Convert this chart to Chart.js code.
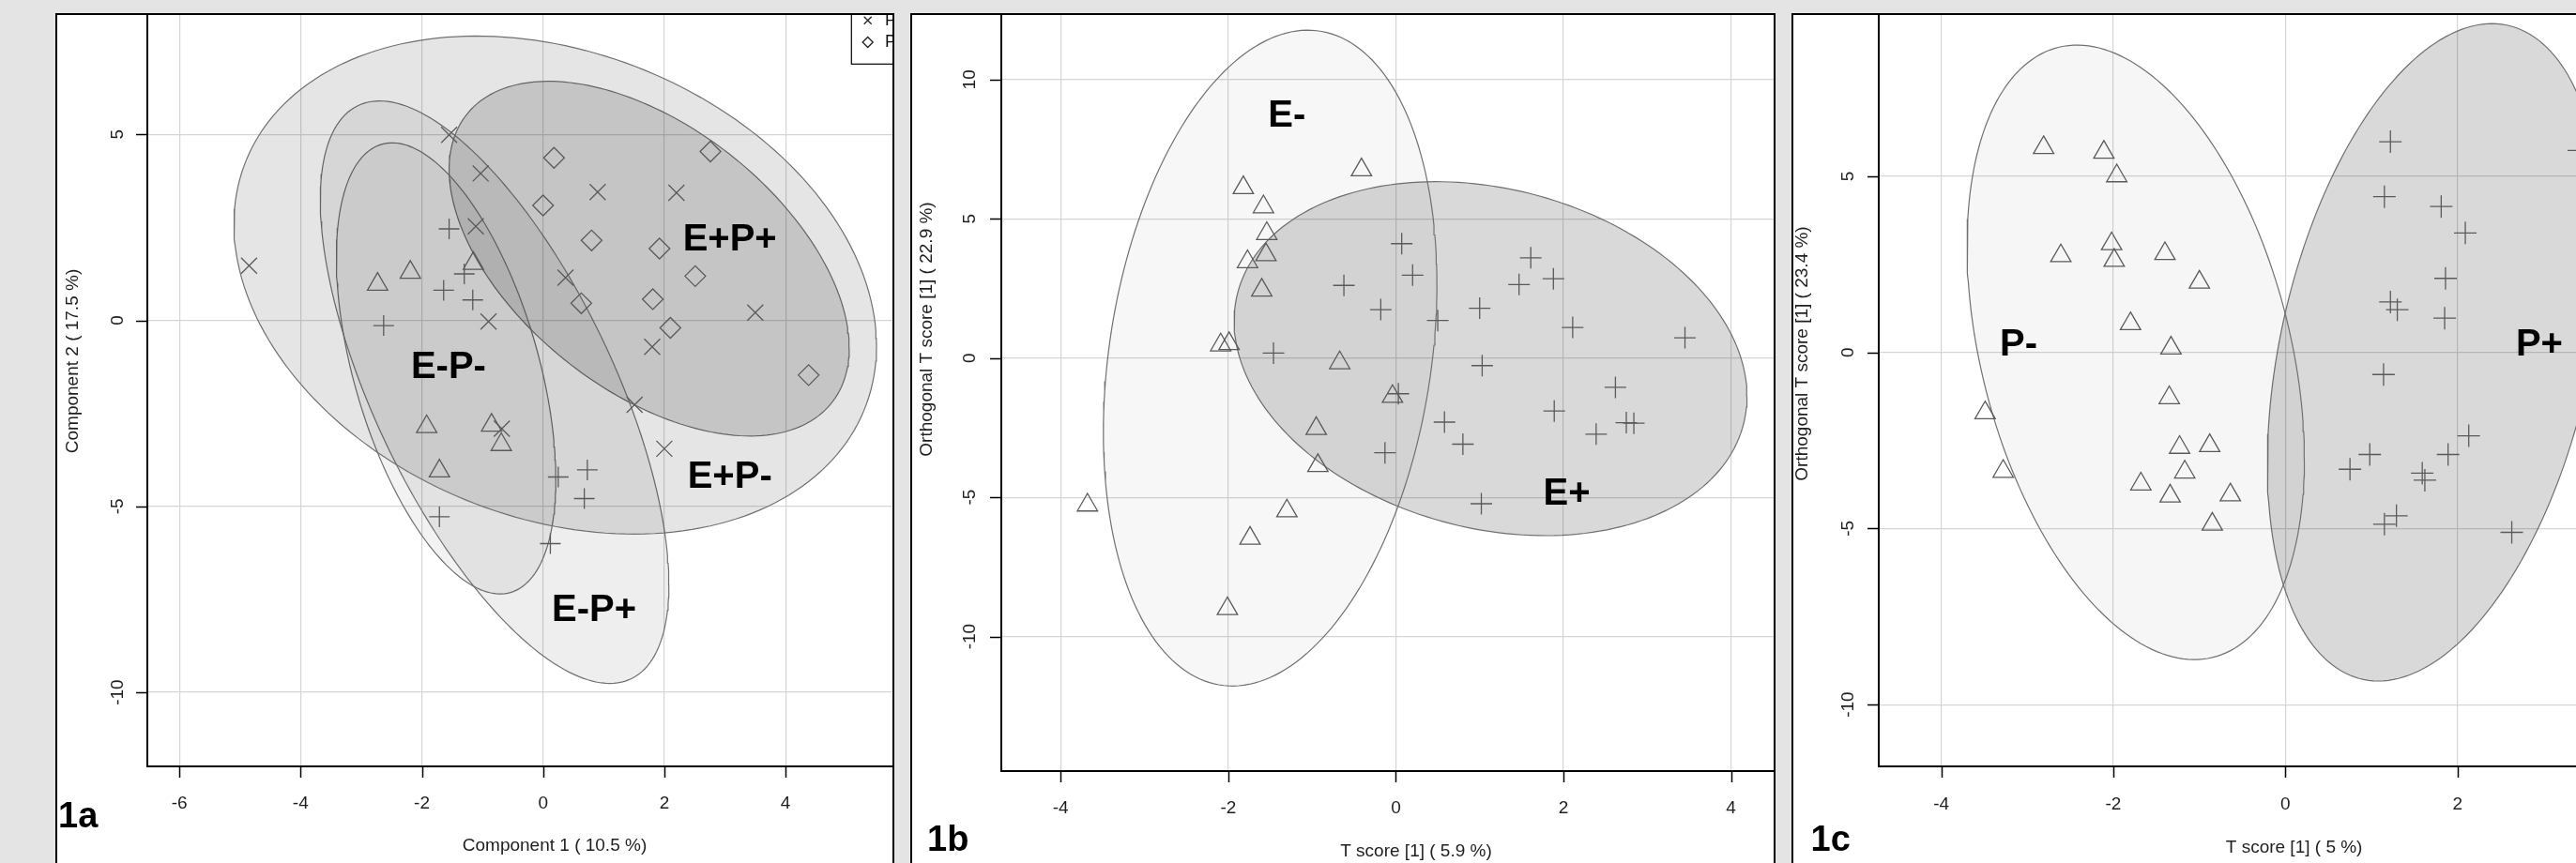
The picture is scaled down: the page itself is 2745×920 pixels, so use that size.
<!DOCTYPE html>
<html><head><meta charset="utf-8">
<script src="https://cdn.jsdelivr.net/npm/chart.js@4.4.1/dist/chart.umd.min.js"></script>
<style>
html,body{margin:0;padding:0;}
body{width:2745px;height:920px;overflow:hidden;background:#e4e4e4;position:relative;}
.panel{position:absolute;box-sizing:border-box;border:2px solid #000;background:#fff;overflow:hidden;}
.panel canvas{position:absolute;left:-2px;top:-2px;}
</style></head>
<body>
<div class="panel" style="left:59px;top:14px;width:894px;height:920px;"><canvas id="cA"></canvas></div>
<div class="panel" style="left:970px;top:14px;width:922px;height:920px;"><canvas id="cB"></canvas></div>
<div class="panel" style="left:1909px;top:14px;width:900px;height:920px;"><canvas id="cC"></canvas></div>
<script>
// ---------------- Panel 1a data ----------------
const A_xTicks = [-6, -4, -2, 0, 2, 4];
const A_yTicks = [-10, -5, 0, 5];
const A_EmPm = [[-2.73,0.97],[-2.19,1.29],[-1.15,1.53],[-1.92,-2.86],[-0.85,-2.82],[-0.69,-3.34],[-1.71,-4.05]];            // triangles
const A_EpPm = [[-4.85,1.47],[-1.55,4.99],[-1.03,3.95],[-1.11,2.53],[-0.90,-0.03],[-0.68,-2.91],[0.37,1.15],[0.90,3.45],[2.20,3.43],[1.80,-0.71],[1.51,-2.27],[2.00,-3.45],[3.50,0.21]]; // x marks
const A_EmPp = [[-1.55,2.46],[-1.30,1.25],[-1.64,0.81],[-1.16,0.55],[-2.63,-0.14],[0.25,-4.21],[0.73,-4.02],[0.68,-4.79],[-1.71,-5.28],[0.12,-6.00]]; // plus
const A_EpPp = [[0.18,4.37],[2.76,4.54],[0.00,3.09],[0.80,2.15],[1.92,1.93],[2.51,1.19],[0.63,0.46],[1.81,0.57],[2.10,-0.20],[4.38,-1.47]]; // diamonds
// ellipse parameters: [centre x, centre y, x half-extent, y shear, y half-axis]
const A_ellEpPm = [0.20, 0.95, 5.30, -1.64, 6.49];
const A_ellEpPp = [1.75, 1.66, 3.30, -2.40, 4.12];
const A_ellEmPp = [-0.80, -1.93, 2.875, -5.17, 5.88];
const A_ellEmPm = [-1.60, -1.29, 1.81, -2.98, 5.28];
const A_labels = [["E+P+",3.08,2.23],["E-P-",-1.56,-1.19],["E+P-",3.08,-4.15],["E-P+",0.84,-7.73]];
const A_legend = ["P-E+", "P+E+"];

// ---------------- Panel 1b data ----------------
const B_xTicks = [-4, -2, 0, 2, 4];
const B_yTicks = [-10, -5, 0, 5, 10];
const B_Em = [[-3.68,-5.28],[-1.82,6.12],[-0.41,6.76],[-1.58,5.43],[-1.54,4.47],[-1.55,3.71],[-1.77,3.46],[-1.60,2.44],[-2.09,0.47],[-1.99,0.52],[-0.67,-0.17],[-0.04,-1.38],[-0.95,-2.53],[-0.93,-3.86],[-1.30,-5.49],[-1.74,-6.47],[-2.01,-9.00]];
const B_Ep = [[0.07,4.11],[0.20,2.98],[-0.62,2.61],[-0.18,1.74],[0.50,1.35],[-1.46,0.18],[1.00,1.79],[1.61,3.60],[1.47,2.64],[1.88,2.85],[2.11,1.10],[3.45,0.73],[1.03,-0.27],[0.03,-1.28],[2.62,-1.05],[1.89,-1.90],[0.58,-2.30],[0.80,-3.09],[-0.13,-3.40],[2.39,-2.73],[2.75,-2.32],[2.84,-2.34],[1.02,-5.23]];
const B_ellEm = [-1.50, 0.00, 1.99, 2.66, 11.47];
const B_ellEp = [1.13, -0.02, 3.06, -1.35, 6.21];
const B_labels = [["E-",-1.30,8.79],["E+",2.04,-4.77]];

// ---------------- Panel 1c data ----------------
const C_xTicks = [-4, -2, 0, 2];
const C_yTicks = [-10, -5, 0, 5];
const C_Pm = [[-2.81,5.81],[-2.11,5.68],[-1.96,5.01],[-2.02,3.08],[-1.99,2.61],[-2.61,2.74],[-1.40,2.80],[-1.00,1.99],[-1.80,0.81],[-1.33,0.12],[-1.35,-1.29],[-3.49,-1.72],[-3.28,-3.38],[-1.23,-2.70],[-0.88,-2.65],[-1.17,-3.40],[-1.68,-3.74],[-1.34,-4.08],[-0.64,-4.05],[-0.85,-4.88]];
const C_Pp = [[1.22,5.98],[1.15,4.42],[1.81,4.14],[2.09,3.39],[1.86,2.10],[1.22,1.43],[1.30,1.21],[1.85,0.97],[1.14,-0.63],[2.13,-2.37],[0.98,-2.90],[0.75,-3.32],[1.89,-2.90],[1.59,-3.43],[1.62,-3.63],[1.29,-4.64],[1.15,-4.88],[2.63,-5.11],[3.41,5.73]];
const C_ellPm = [-1.74, 0.00, 1.96, -3.03, 8.18];
const C_ellPp = [1.74, 0.00, 1.95, 3.16, 8.78];
const C_labels = [["P-",-3.10,0.28],["P+",2.95,0.28]];

// ---------------- rendering ----------------
const FONT = '"Liberation Sans", Arial, Helvetica, sans-serif';
const MARK = '#5a5a5a';

function ellipsePoints(p){
  const out=[];
  for(let i=0;i<=200;i++){
    const t=i/200*2*Math.PI;
    out.push({x:p[0]+p[2]*Math.cos(t), y:p[1]+p[3]*Math.cos(t)+p[4]*Math.sin(t)});
  }
  return out;
}
function toPts(arr){ return arr.map(d=>({x:d[0],y:d[1]})); }

function build(id, c){
  const cv=document.getElementById(id);
  cv.width=c.cw; cv.height=c.ch; cv.style.width=c.cw+'px'; cv.style.height=c.ch+'px';
  const ds=[];
  c.ellipses.forEach(e=>ds.push({type:'line', data:ellipsePoints(e.p), fill:'shape', backgroundColor:e.fill,
    borderColor:'#707070', borderWidth:1.2, pointRadius:0, pointHoverRadius:0, tension:0, order:10}));
  c.groups.forEach(g=>ds.push({type:'scatter', data:toPts(g.d), pointStyle:g.style, pointRadius:g.r, pointHoverRadius:g.r,
    pointBorderColor:MARK, pointBackgroundColor:'rgba(0,0,0,0)', pointBorderWidth:1.3, showLine:false, order:1}));

  const deco = {
    id:'deco'+id,
    afterDatasetsDraw(chart){
      const ctx=chart.ctx, xs=chart.scales.x, ys=chart.scales.y;
      ctx.save();
      ctx.fillStyle='#000';
      ctx.font='bold 40px '+FONT;
      ctx.textAlign='center'; ctx.textBaseline='alphabetic';
      c.labels.forEach(l=>{ ctx.fillText(l[0], xs.getPixelForValue(l[1]), ys.getPixelForValue(l[2])+0.358*40); });
      if(c.legend){
        const L=c.legend;
        ctx.strokeStyle='#000'; ctx.lineWidth=1.2;
        ctx.strokeRect(L.x, -20, 200, L.bottom+20);
        ctx.lineWidth=1.3; ctx.strokeStyle='#222';
        let mx=L.mx, my=L.my1, r=4;
        ctx.beginPath(); ctx.moveTo(mx-r,my-r); ctx.lineTo(mx+r,my+r); ctx.moveTo(mx+r,my-r); ctx.lineTo(mx-r,my+r); ctx.stroke();
        my=L.my2; r=5.5;
        ctx.beginPath(); ctx.moveTo(mx-r,my); ctx.lineTo(mx,my-r); ctx.lineTo(mx+r,my); ctx.lineTo(mx,my+r); ctx.closePath(); ctx.stroke();
        ctx.fillStyle='#111'; ctx.font='18px '+FONT; ctx.textAlign='left'; ctx.textBaseline='middle';
        ctx.fillText(L.text[0], L.tx, L.my1); ctx.fillText(L.text[1], L.tx, L.my2);
      }
      ctx.restore();
    },
    afterDraw(chart){
      const ctx=chart.ctx, xs=chart.scales.x, ys=chart.scales.y, a=chart.chartArea;
      ctx.save();
      ctx.strokeStyle='#000'; ctx.lineWidth=1.5;
      c.xTicks.forEach(v=>{ const p=Math.round(xs.getPixelForValue(v))+0.5; ctx.beginPath(); ctx.moveTo(p,a.bottom); ctx.lineTo(p,a.bottom+12); ctx.stroke(); });
      c.yTicks.forEach(v=>{ const p=Math.round(ys.getPixelForValue(v))+0.5; ctx.beginPath(); ctx.moveTo(a.left-12,p); ctx.lineTo(a.left,p); ctx.stroke(); });
      ctx.fillStyle='#1e1e1e'; ctx.font='19px '+FONT; ctx.textAlign='center'; ctx.textBaseline='middle';
      c.xTicks.forEach(v=>{ ctx.fillText(String(v), xs.getPixelForValue(v), c.xTickY); });
      c.yTicks.forEach(v=>{ ctx.save(); ctx.translate(c.yTickX, ys.getPixelForValue(v)); ctx.rotate(-Math.PI/2); ctx.fillText(String(v),0,0); ctx.restore(); });
      ctx.fillText(c.xTitle, c.xTitlePos[0], c.xTitlePos[1]);
      ctx.save(); ctx.translate(c.yTitlePos[0], c.yTitlePos[1]); ctx.rotate(-Math.PI/2); ctx.fillText(c.yTitle,0,0); ctx.restore();
      ctx.fillStyle='#000'; ctx.font='bold 38px '+FONT; ctx.textAlign='left'; ctx.textBaseline='alphabetic';
      ctx.fillText(c.panel, c.panelPos[0], c.panelPos[1]);
      ctx.restore();
    }
  };

  const axisCommon = (ticks, min, max, fit) => ({
    type:'linear', min:min, max:max,
    afterBuildTicks: s=>{ s.ticks = ticks.map(v=>({value:v})); },
    ticks:{display:false, includeBounds:false},
    grid:{color:'#d5d5d5', lineWidth:1.2, drawTicks:false},
    border:{display:true, color:'#000', width:2},
    afterFit: fit
  });

  new Chart(cv, {
    type:'scatter',
    data:{datasets:ds},
    options:{
      responsive:false, animation:false, devicePixelRatio:1,
      layout:{autoPadding:false, padding:{top:c.areaTop,left:0,right:0,bottom:0}},
      plugins:{legend:{display:false}, tooltip:{enabled:false}},
      scales:{
        x: axisCommon(c.xTicks, c.xmin, c.xmax, s=>{ s.height=c.xh; }),
        y: axisCommon(c.yTicks, c.ymin, c.ymax, s=>{ s.width=c.yw; })
      }
    },
    plugins:[deco]
  });
}

// Panel 1a  (canvas origin at page 59,14)
build('cA', {
  cw:892, ch:906, areaTop:2, yw:98, xh:103,
  xmin:-6.528, xmax:5.763, ymin:-11.99, ymax:8.21,
  xTicks:A_xTicks, yTicks:A_yTicks,
  ellipses:[
    {p:A_ellEpPm, fill:'rgba(0,0,0,0.10)'},
    {p:A_ellEmPp, fill:'rgba(0,0,0,0.065)'},
    {p:A_ellEmPm, fill:'rgba(0,0,0,0.05)'},
    {p:A_ellEpPp, fill:'rgba(0,0,0,0.14)'}
  ],
  groups:[
    {d:A_EmPm, style:'triangle', r:12.5},
    {d:A_EpPm, style:'crossRot', r:12},
    {d:A_EmPp, style:'cross', r:11},
    {d:A_EpPp, style:'rectRot', r:11}
  ],
  labels:A_labels,
  legend:{x:907.3-59, bottom:68.3-14, mx:924.7-59, my1:21.7-14, my2:45-14, tx:943-59, text:A_legend},
  xTickY:857-14, yTickX:125.5-59,
  xTitle:'Component 1 ( 10.5 %)', xTitlePos:[591-59, 902-14],
  yTitle:'Component 2 ( 17.5 %)', yTitlePos:[78-59, 385-14],
  panel:'1a', panelPos:[62-59, 881.5-14]
});

// Panel 1b (canvas origin at page 970,14)
build('cB', {
  cw:920, ch:906, areaTop:2, yw:97, xh:98,
  xmin:-4.708, xmax:4.508, ymin:-14.83, ymax:12.32,
  xTicks:B_xTicks, yTicks:B_yTicks,
  ellipses:[
    {p:B_ellEm, fill:'rgba(0,0,0,0.03)'},
    {p:B_ellEp, fill:'rgba(0,0,0,0.15)'}
  ],
  groups:[
    {d:B_Em, style:'triangle', r:12.5},
    {d:B_Ep, style:'cross', r:11.5}
  ],
  labels:B_labels,
  xTickY:861.5-14, yTickX:1033.5-970,
  xTitle:'T score [1] ( 5.9 %)', xTitlePos:[1509-970, 908-14],
  yTitle:'Orthogonal T score [1] ( 22.9 %)', yTitlePos:[987.6-970, 351-14],
  panel:'1b', panelPos:[988-970, 906.5-14]
});

// Panel 1c (canvas origin at page 1909,14)
build('cC', {
  cw:851, ch:906, areaTop:2, yw:93, xh:103,
  xmin:-4.726, xmax:3.540, ymin:-11.755, ymax:9.577,
  xTicks:C_xTicks, yTicks:C_yTicks,
  ellipses:[
    {p:C_ellPm, fill:'rgba(0,0,0,0.035)'},
    {p:C_ellPp, fill:'rgba(0,0,0,0.15)'}
  ],
  groups:[
    {d:C_Pm, style:'triangle', r:12.5},
    {d:C_Pp, style:'cross', r:12}
  ],
  labels:C_labels,
  xTickY:858-14, yTickX:1970-1909,
  xTitle:'T score [1] ( 5 %)', xTitlePos:[2444.6-1909, 904-14],
  yTitle:'Orthogonal T score [1] ( 23.4 %)', yTitlePos:[1921-1909, 377-14],
  panel:'1c', panelPos:[1929.6-1909, 906.5-14]
});
</script>
</body></html>
